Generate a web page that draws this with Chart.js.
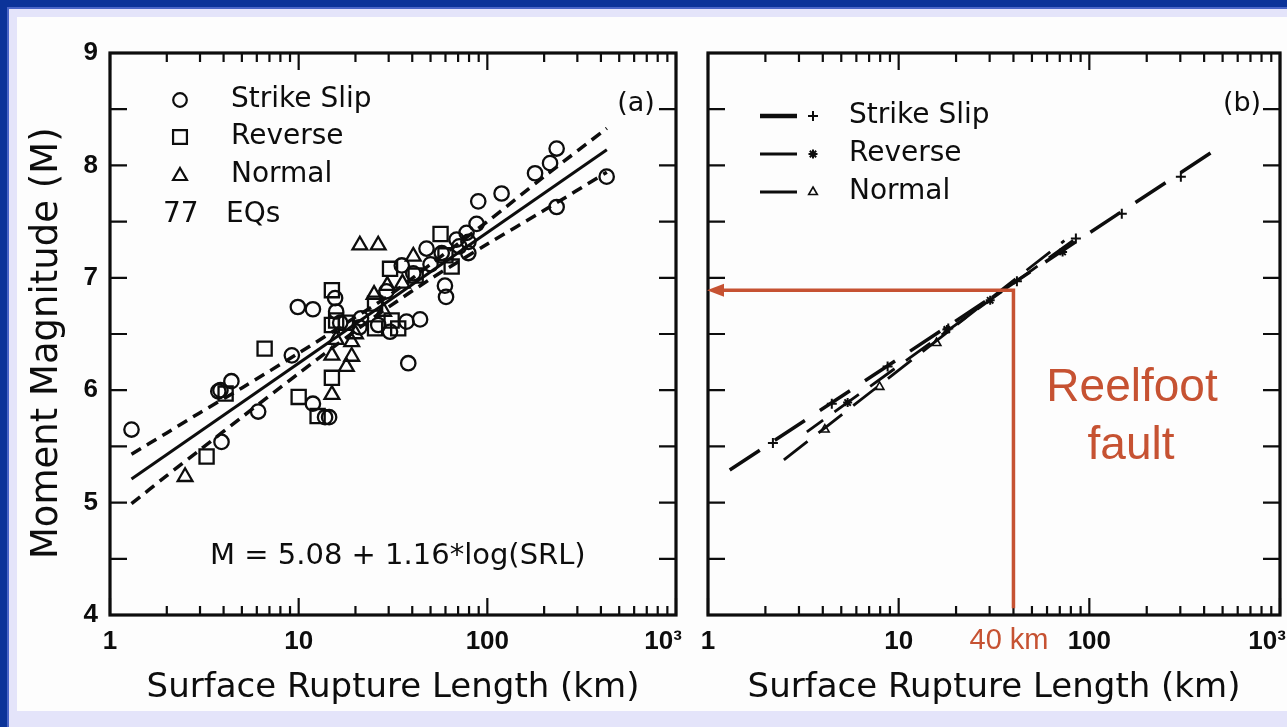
<!DOCTYPE html>
<html><head><meta charset="utf-8">
<script src="https://cdn.jsdelivr.net/npm/chart.js@4.4.1/dist/chart.umd.min.js"></script>
<style>
html,body{margin:0;padding:0;width:1287px;height:727px;overflow:hidden;background:#e4e4fa;}
#fTop{position:absolute;left:0;top:0;width:1287px;height:7px;background:#0b3399;}
#fLeft{position:absolute;left:0;top:0;width:7px;height:727px;background:#0b3399;}
#lTop{position:absolute;left:7px;top:7px;width:1280px;height:2px;background:#4a66c8;}
#lLeft{position:absolute;left:7px;top:7px;width:2px;height:720px;background:#4a66c8;}
#paper{position:absolute;left:17px;top:17px;width:1270px;height:694px;background:#fdfdfd;}
canvas{position:absolute;top:0;}
#cA{left:0;} #cB{left:600px;}
</style></head>
<body>
<div id="fTop"></div><div id="fLeft"></div><div id="lTop"></div><div id="lLeft"></div><div id="paper"></div>
<canvas id="cA" width="720" height="727"></canvas>
<canvas id="cB" width="687" height="727"></canvas>
<script>
// ---------- data ----------
const xTickValues = [1, 10, 100, 1000];
const xTickLabels = ['1', '10', '100', '10³'];
const yTickLabels = ['4', '5', '6', '7', '8', '9'];

// panel (a) observations: surface rupture length (km) and moment magnitude
const ssL = [1.3,3.9,6.1,3.75,3.85,4.4,9.2,9.9,11.9,11.9,13.8,14.5,15.6,16.6,29.2,35.2,40.5,44,37.3,30.5,26.4,38.1,47.6,59.6,60.4,68.7,79.3,77.6,87.7,89.5,119,179,215,233,233,429,57.3,15.8,21,21.4,79.4,50,71];
const ssM = [5.65,5.54,5.81,5.99,6.00,6.08,6.31,6.74,6.72,5.88,5.76,5.76,6.82,6.60,6.88,7.11,7.04,6.63,6.61,6.52,6.58,6.24,7.26,6.93,6.83,7.34,7.22,7.40,7.48,7.68,7.75,7.93,8.02,8.15,7.63,7.90,7.22,6.70,6.56,6.64,7.32,7.12,7.28];
const rvL = [3.25,4.1,6.6,10,12.6,15,15,15.8,15,25.4,25.4,31.1,30.5,56.5,64.7,33.7,17.8,60,41.7];
const rvM = [5.41,5.97,6.37,5.94,5.77,6.89,6.58,6.62,6.11,6.77,6.55,6.62,7.08,7.39,7.10,6.55,6.60,7.20,7.02];
const nmL = [2.5,15,15,19.1,17.9,19.1,21.1,26.4,40.5,29.5,20,28.2,15.8,35.5,25.1];
const nmM = [5.23,6.31,5.96,6.30,6.21,6.43,7.29,7.29,7.19,6.93,6.50,6.70,6.45,6.95,6.85];

// panel (a) regression line and confidence band
const regL = [1.3, 430];
const regM = [5.21, 8.14];
const bandL = [1.3, 2, 3, 5, 10, 20, 30, 50, 100, 200, 430];
const upperM = [5.43, 5.62, 5.80, 6.02, 6.33, 6.65, 6.84, 7.12, 7.50, 7.90, 8.33];
const lowerM = [4.99, 5.24, 5.47, 5.76, 6.15, 6.53, 6.74, 6.99, 7.30, 7.60, 7.94];

// panel (b) regression lines by slip type and their symbols
const lineSSL = [1.3, 432], lineSSM = [5.29, 8.11];
const lineRVL = [3.3, 85],  lineRVM = [5.63, 7.35];
const lineNML = [2.5, 74],  lineNMM = [5.38, 7.33];
const markSSL = [2.19, 4.46, 8.75, 18.2, 41.7, 85, 148, 302];
const markSSM = [5.53, 5.88, 6.21, 6.55, 6.97, 7.35, 7.57, 7.90];
const markRVL = [5.4, 17.9, 30.2, 72.4];
const markRVM = [5.89, 6.54, 6.80, 7.23];
const markNML = [4.1, 7.94, 15.8];
const markNMM = [5.65, 6.03, 6.42];

// Reelfoot fault annotation
const reelfootL = 40;
const reelfootM = 6.89;
const reelfootBottomM = 4.06;

// ---------- helpers ----------
const pts = (xs, ys) => xs.map((x, i) => ({x: x, y: ys[i]}));
const INK = '#0d0d0d';
const RED = '#c65232';
const TITLE_FONT = "'DejaVu Sans', sans-serif";
const TICK_FONT = "'Liberation Sans', Arial, sans-serif";

function xScaleCfg(boxH) {
  return {
    type: 'logarithmic', min: 1, max: 1000, position: 'bottom',
    afterBuildTicks: s => {
      const t = [];
      for (let d = 1; d < 1000; d *= 10) for (let k = 1; k < 10; k++) t.push({value: k * d, major: k === 1});
      t.push({value: 1000, major: true});
      s.ticks = t;
    },
    ticks: {
      autoSkip: false, maxRotation: 0, minRotation: 0, padding: 11, color: INK,
      font: {family: TICK_FONT, size: 26, weight: 'bold'},
      callback: (v) => { const i = xTickValues.indexOf(v); if (i < 0) return ''; return i === 3 ? xTickLabels[i] + '\u2003' : xTickLabels[i]; }
    },
    grid: {display: false, drawTicks: false},
    border: {display: false},
    title: {display: true, text: 'Surface Rupture Length (km)', color: INK,
      font: {family: TITLE_FONT, size: 34}, padding: {top: 0, bottom: 18}},
    afterFit: s => { s.height = boxH; s.paddingLeft = 0; s.paddingRight = 0; }
  };
}
function yScaleCfg(boxW, labels) {
  return {
    type: 'linear', min: 4, max: 9,
    ticks: {
      display: labels, stepSize: 0.5, padding: 12, color: INK,
      font: {family: TICK_FONT, size: 26, weight: 'bold'},
      callback: v => Number.isInteger(v) ? yTickLabels[v - 4] : ''
    },
    grid: {display: false, drawTicks: false},
    border: {display: false},
    title: {display: labels, text: 'Moment Magnitude (M)\u2002', color: INK,
      font: {family: TITLE_FONT, size: 37}, padding: {top: 25, bottom: 0}},
    afterFit: s => { s.width = boxW; s.paddingTop = 0; s.paddingBottom = 0; }
  };
}

const framePlugin = {
  id: 'frame',
  beforeDatasetsDraw(chart) {
    const {ctx, chartArea: a, scales: {x, y}} = chart;
    ctx.save();
    ctx.strokeStyle = INK;
    ctx.lineWidth = 2.2;
    ctx.beginPath();
    x.ticks.forEach(t => {
      const px = x.getPixelForValue(t.value);
      const len = t.major ? 17 : 9;
      ctx.moveTo(px, a.bottom); ctx.lineTo(px, a.bottom - len);
      ctx.moveTo(px, a.top); ctx.lineTo(px, a.top + len);
    });
    y.ticks.forEach(t => {
      const py = y.getPixelForValue(t.value);
      ctx.moveTo(a.left, py); ctx.lineTo(a.left + 17, py);
      ctx.moveTo(a.right, py); ctx.lineTo(a.right - 17, py);
    });
    ctx.stroke();
    ctx.lineWidth = 3.2;
    ctx.strokeRect(a.left, a.top, a.right - a.left, a.bottom - a.top);
    ctx.restore();
  }
};

function drawMarker(ctx, style, r, bw, x, y) {
  ctx.save();
  ctx.strokeStyle = INK; ctx.fillStyle = 'rgba(0,0,0,0)'; ctx.lineWidth = bw;
  Chart.helpers.drawPoint(ctx, {pointStyle: style, radius: r, rotation: 0, borderWidth: bw}, x, y);
  ctx.restore();
}

const textAPlugin = {
  id: 'textA',
  afterDraw(chart) {
    const ctx = chart.ctx;
    ctx.save();
    ctx.fillStyle = INK;
    ctx.textBaseline = 'middle';
    ctx.font = "28px 'DejaVu Sans', sans-serif";
    drawMarker(ctx, 'circle', 6.8, 2.2, 180, 100);
    drawMarker(ctx, 'rect', 9.8, 2.2, 180, 137);
    drawMarker(ctx, 'triangle', 8, 2.2, 180, 176);
    ctx.textAlign = 'left';
    ctx.fillText('Strike Slip', 231, 100);
    ctx.fillText('Reverse', 231, 137);
    ctx.fillText('Normal', 231, 175);
    ctx.fillText('77', 163, 215);
    ctx.fillText('EQs', 226, 215);
    ctx.font = "29px 'DejaVu Sans', sans-serif";
    ctx.fillText('M = 5.08 + 1.16*log(SRL)', 210, 556);
    ctx.textAlign = 'center';
    ctx.font = "27px 'DejaVu Sans', sans-serif";
    ctx.fillText('(a)', 636, 104);
    ctx.restore();
  }
};

const textBPlugin = {
  id: 'textB',
  afterDraw(chart) {
    const {ctx, chartArea: a, scales: {x, y}} = chart;
    ctx.save();
    // legend
    ctx.strokeStyle = INK;
    ctx.lineWidth = 4.5;
    ctx.beginPath(); ctx.moveTo(160, 116); ctx.lineTo(197, 116); ctx.stroke();
    ctx.lineWidth = 3;
    ctx.beginPath(); ctx.moveTo(160, 154); ctx.lineTo(197, 154); ctx.stroke();
    ctx.beginPath(); ctx.moveTo(160, 192); ctx.lineTo(197, 192); ctx.stroke();
    drawMarker(ctx, 'cross', 5, 2, 213, 116);
    drawMarker(ctx, 'star', 4.5, 2, 213, 154);
    drawMarker(ctx, 'triangle', 5, 1.6, 213, 192);
    ctx.fillStyle = INK;
    ctx.textBaseline = 'middle';
    ctx.textAlign = 'left';
    ctx.font = "28px 'DejaVu Sans', sans-serif";
    ctx.fillText('Strike Slip', 249, 116);
    ctx.fillText('Reverse', 249, 154);
    ctx.fillText('Normal', 249, 192);
    ctx.textAlign = 'center';
    ctx.font = "27px 'DejaVu Sans', sans-serif";
    ctx.fillText('(b)', 642, 104);

    // Reelfoot annotation
    const xp = x.getPixelForValue(reelfootL);
    const yp = y.getPixelForValue(reelfootM);
    const yb = y.getPixelForValue(reelfootBottomM);
    ctx.strokeStyle = RED; ctx.fillStyle = RED;
    ctx.lineWidth = 3.5;
    ctx.beginPath();
    ctx.moveTo(xp, yb); ctx.lineTo(xp, yp); ctx.lineTo(a.left + 14, yp);
    ctx.stroke();
    ctx.beginPath();
    ctx.moveTo(a.left - 1, yp); ctx.lineTo(a.left + 16, yp - 6.5); ctx.lineTo(a.left + 16, yp + 6.5);
    ctx.closePath(); ctx.fill();
    ctx.textBaseline = 'alphabetic';
    ctx.font = "46px 'Liberation Sans', Arial, sans-serif";
    ctx.fillText('Reelfoot', 532, 401);
    ctx.fillText('fault', 531, 459);
    ctx.font = "29px 'Liberation Sans', Arial, sans-serif";
    ctx.fillText('40 km', 409, 649);
    ctx.restore();
  }
};

const common = {
  responsive: false, animation: false, devicePixelRatio: 1,
  plugins: {legend: {display: false}, tooltip: {enabled: false}}
};

// ---------- panel (a) ----------
new Chart(document.getElementById('cA'), {
  type: 'scatter',
  data: {datasets: [
    {data: pts(regL, regM), showLine: true, borderColor: INK, borderWidth: 3, pointRadius: 0},
    {data: pts(bandL, upperM), showLine: true, borderColor: INK, borderWidth: 3.5, borderDash: [11, 7], pointRadius: 0, tension: 0.3},
    {data: pts(bandL, lowerM), showLine: true, borderColor: INK, borderWidth: 3.5, borderDash: [11, 7], pointRadius: 0, tension: 0.3},
    {data: pts(ssL, ssM), pointStyle: 'circle', pointRadius: 7.2, pointBorderWidth: 2.3, pointBorderColor: INK, pointBackgroundColor: 'rgba(0,0,0,0)'},
    {data: pts(rvL, rvM), pointStyle: 'rect', pointRadius: 10, pointBorderWidth: 2.3, pointBorderColor: INK, pointBackgroundColor: 'rgba(0,0,0,0)'},
    {data: pts(nmL, nmM), pointStyle: 'triangle', pointRadius: 8.5, pointBorderWidth: 2.3, pointBorderColor: INK, pointBackgroundColor: 'rgba(0,0,0,0)'}
  ]},
  options: Object.assign({}, common, {
    layout: {padding: {top: 53, right: 44, left: 0, bottom: 0}},
    scales: {x: xScaleCfg(112), y: yScaleCfg(110, true)}
  }),
  plugins: [framePlugin, textAPlugin]
});

// ---------- panel (b) ----------
new Chart(document.getElementById('cB'), {
  type: 'scatter',
  data: {datasets: [
    {data: pts(lineSSL, lineSSM), showLine: true, borderColor: INK, borderWidth: 3.5, borderDash: [36, 18], pointRadius: 0},
    {data: pts(lineRVL, lineRVM), showLine: true, borderColor: INK, borderWidth: 2.8, borderDash: [30, 14], borderDashOffset: 10, pointRadius: 0},
    {data: pts(lineNML, lineNMM), showLine: true, borderColor: INK, borderWidth: 2.8, borderDash: [30, 14], pointRadius: 0},
    {data: pts(markSSL, markSSM), pointStyle: 'cross', pointRadius: 5, pointBorderWidth: 2, pointBorderColor: INK},
    {data: pts(markRVL, markRVM), pointStyle: 'star', pointRadius: 4.5, pointBorderWidth: 2, pointBorderColor: INK},
    {data: pts(markNML, markNMM), pointStyle: 'triangle', pointRadius: 5, pointBorderWidth: 1.6, pointBorderColor: INK, pointBackgroundColor: 'rgba(0,0,0,0)'}
  ]},
  options: Object.assign({}, common, {
    layout: {padding: {top: 53, right: 6, left: 0, bottom: 0}},
    scales: {x: xScaleCfg(112), y: yScaleCfg(108, false)}
  }),
  plugins: [framePlugin, textBPlugin]
});
</script>
</body></html>
